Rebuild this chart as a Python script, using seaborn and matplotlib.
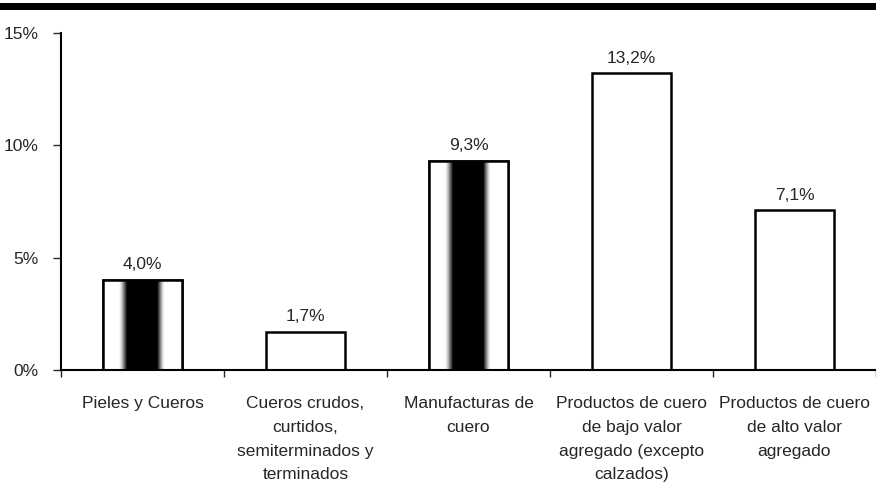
import numpy as np
import pandas as pd
import matplotlib
matplotlib.use("Agg")
import matplotlib.pyplot as plt
import seaborn as sns
from matplotlib.patches import Rectangle
from matplotlib.ticker import FuncFormatter

categories = [
    "Pieles y Cueros",
    "Cueros crudos,\ncurtidos,\nsemiterminados y\nterminados",
    "Manufacturas de\ncuero",
    "Productos de cuero\nde bajo valor\nagregado (excepto\ncalzados)",
    "Productos de cuero\nde alto valor\nagregado",
]
values = [4.0, 1.7, 9.3, 13.2, 7.1]
shaded = [True, False, True, False, False]

sns.set_style("white")
plt.rcParams["font.family"] = ["Liberation Sans Narrow", "Liberation Sans", "DejaVu Sans"]

df = pd.DataFrame({"cat": categories, "val": values})

fig = plt.figure(figsize=(8.76, 4.97), dpi=100)
ax = fig.add_axes([61 / 876, 1 - 370 / 497, 1 - 61 / 876, (370 - 33) / 497])

sns.barplot(data=df, x="cat", y="val", ax=ax, color="white", width=0.49,
            edgecolor="black", linewidth=1.8, saturation=1)

# dark vertical band in the shaded bars (white -> black -> white)
xs = np.linspace(0, 1, 200)
profile = np.interp(xs, [0, 0.2, 0.3, 0.68, 0.77, 1], [0, 0, 1, 1, 0, 0])
for patch, sh in zip(ax.patches, shaded):
    if not sh:
        continue
    x0, w, h = patch.get_x(), patch.get_width(), patch.get_height()
    im = ax.imshow(profile[None, :], cmap="Greys", vmin=0, vmax=1, aspect="auto",
                   extent=[x0, x0 + w, 0, h], zorder=patch.get_zorder() + 0.1,
                   interpolation="bilinear")
    im.set_clip_path(patch)
    ax.add_patch(Rectangle((x0, 0), w, h, fill=False, edgecolor="black",
                           linewidth=1.8, zorder=patch.get_zorder() + 0.2))

for patch, v in zip(ax.patches, values):
    ax.text(patch.get_x() + patch.get_width() / 2, v + 0.35,
            f"{v:.1f}%".replace(".", ","), ha="center", va="bottom", fontsize=12.5)

ax.set_xlim(-0.5, 4.5)
ax.set_ylim(0, 15)
ax.set_yticks([0, 5, 10, 15])
ax.yaxis.set_major_formatter(FuncFormatter(lambda v, p: f"{v:.0f}%"))
ax.set_xticks(range(len(categories)))
ax.set_xticklabels(categories, fontsize=12.5, linespacing=1.72)
ax.set_xticks(np.arange(-0.5, 5, 1), minor=True)
ax.tick_params(axis="x", which="major", length=0, pad=19)
ax.tick_params(axis="x", which="minor", length=5, width=1, direction="out", bottom=True)
ax.tick_params(axis="y", length=6, width=1, direction="out", left=True,
               labelsize=12.5, pad=10)
ax.set_xlabel("")
ax.set_ylabel("")
for s in ["top", "right"]:
    ax.spines[s].set_visible(False)
for s in ["left", "bottom"]:
    ax.spines[s].set_linewidth(1.5)
    ax.spines[s].set_color("black")

# thick rule across the top of the page
fig.patches.append(Rectangle((0, 1 - 10 / 497), 1, 7 / 497, transform=fig.transFigure,
                             facecolor="black", edgecolor="none"))

fig.savefig("out.png", dpi=100)
